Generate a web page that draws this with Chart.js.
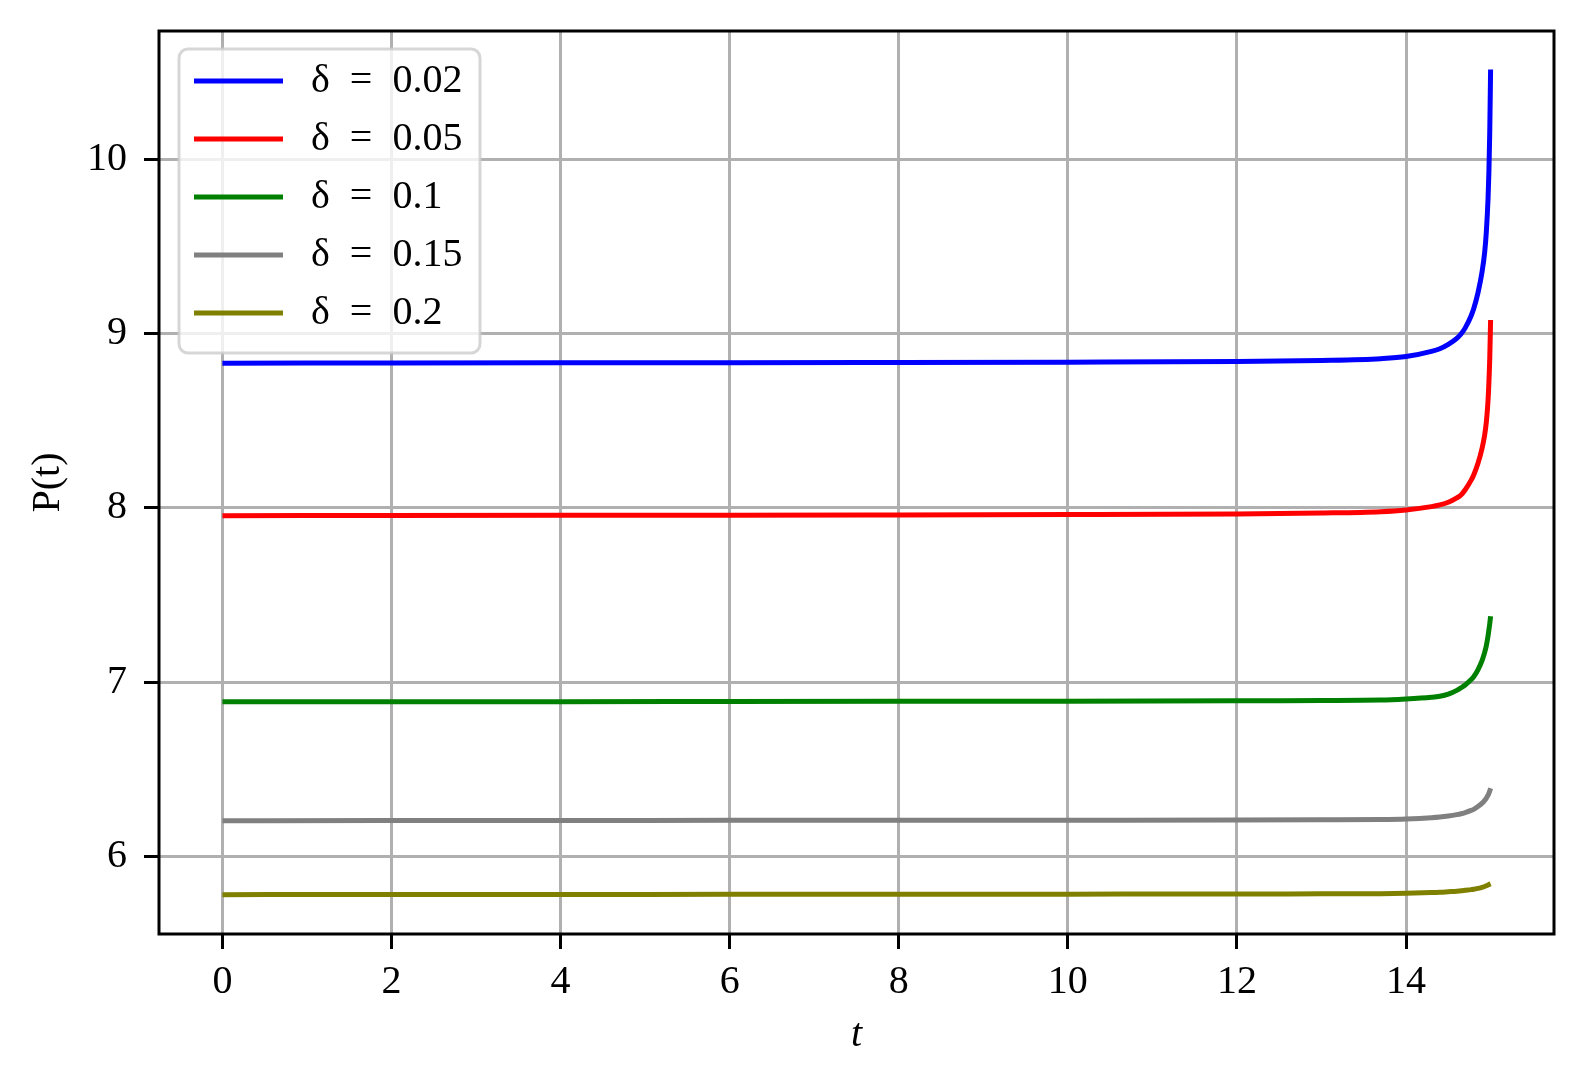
<!DOCTYPE html>
<html>
<head>
<meta charset="utf-8">
<script src="https://cdn.jsdelivr.net/npm/chart.js@4/dist/chart.umd.min.js"></script>
<style>
  html, body { margin: 0; padding: 0; background: #fff; }
  canvas { display: block; }
</style>
</head>
<body>
<canvas id="pChart" width="1583" height="1085"></canvas>
<script>
// time samples (denser near the blow-up at t = 15)
const tValues = [0, 2, 4, 6, 8, 10, 12, 13, 13.7, 14, 14.3, 14.4, 14.5, 14.6, 14.65, 14.7, 14.77, 14.8, 14.85, 14.9, 14.93, 14.95, 14.97, 14.98, 14.99, 15];

const p002 = [8.832, 8.833, 8.834, 8.835, 8.836, 8.838, 8.842, 8.848, 8.858, 8.87, 8.90, 8.915, 8.94, 8.975, 9.0, 9.035, 9.105, 9.145, 9.235, 9.36, 9.47, 9.59, 9.78, 9.93, 10.16, 10.52];
const p005 = [7.956, 7.957, 7.958, 7.959, 7.960, 7.962, 7.966, 7.971, 7.979, 7.989, 8.008, 8.018, 8.033, 8.058, 8.075, 8.105, 8.16, 8.19, 8.255, 8.345, 8.42, 8.495, 8.62, 8.72, 8.86, 9.08];
const p010 = [6.886, 6.887, 6.887, 6.888, 6.889, 6.890, 6.892, 6.894, 6.896, 6.902, 6.912, 6.918, 6.93, 6.952, 6.967, 6.983, 7.014, 7.03, 7.07, 7.125, 7.17, 7.21, 7.265, 7.30, 7.335, 7.378];
const p015 = [6.203, 6.204, 6.204, 6.205, 6.205, 6.206, 6.207, 6.208, 6.210, 6.213, 6.22, 6.224, 6.23, 6.238, 6.243, 6.25, 6.262, 6.268, 6.284, 6.304, 6.32, 6.333, 6.35, 6.361, 6.374, 6.389];
const p020 = [5.778, 5.779, 5.779, 5.780, 5.780, 5.781, 5.782, 5.783, 5.784, 5.786, 5.79, 5.792, 5.795, 5.798, 5.80, 5.803, 5.807, 5.809, 5.814, 5.82, 5.825, 5.829, 5.834, 5.836, 5.839, 5.841];

const seriesLabels = ['δ = 0.02', 'δ = 0.05', 'δ = 0.1', 'δ = 0.15', 'δ = 0.2'];
const seriesColors = ['#0000ff', '#ff0000', '#008000', '#808080', '#808000'];
const seriesValues = [p002, p005, p010, p015, p020];

const xTicks = [0, 2, 4, 6, 8, 10, 12, 14];
const yTicks = [6, 7, 8, 9, 10];

const FONT = "'Liberation Serif', 'DejaVu Serif', serif";
Chart.defaults.color = '#000';
Chart.defaults.font.family = FONT;

const datasets = seriesValues.map((vals, i) => ({
    label: '\u2009' + seriesLabels[i].replace(/ /g, '\u2002'),
    data: tValues.map((t, j) => ({ x: t, y: vals[j] })),
    borderColor: seriesColors[i],
    backgroundColor: seriesColors[i],
    borderWidth: 5,
    pointRadius: 0,
    fill: false,
    cubicInterpolationMode: 'monotone'
}));

// legend drawn after the lines, on a rounded translucent box; axes frame on all sides
const framePlugin = {
    id: 'framePlugin',
    beforeLayout(chart) {
        const lg = chart.legend;
        if (!lg) return;
        lg._layers = () => [{
            z: 1,
            draw(area) {
                const c = chart.ctx;
                const x = lg.left + 3, y = lg.top + 6, w = 301, h = 304;
                c.save();
                c.beginPath();
                c.roundRect(x, y, w, h, 9);
                c.fillStyle = 'rgba(255,255,255,0.8)';
                c.fill();
                c.lineWidth = 3;
                c.strokeStyle = 'rgba(204,204,204,0.8)';
                c.stroke();
                c.restore();
                lg.draw(area);
            }
        }];
    },
    afterLayout(chart) {
        const lg = chart.legend;
        if (!lg) return;
        const a = chart.chartArea;
        const h = lg.bottom - lg.top, w = lg.right - lg.left;
        lg.left = a.left + 17; lg.right = lg.left + w;
        lg.top = a.top + 12; lg.bottom = lg.top + h;
    },
    afterDraw(chart) {
        const a = chart.chartArea;
        const c = chart.ctx;
        c.save();
        c.strokeStyle = '#000';
        c.lineWidth = 3;
        c.strokeRect(a.left, a.top, a.right - a.left, a.bottom - a.top);
        c.restore();
    }
};

const ctx = document.getElementById('pChart').getContext('2d');
const chart = new Chart(ctx, {
    type: 'line',
    data: { datasets: datasets },
    plugins: [framePlugin],
    options: {
        responsive: false,
        animation: false,
        devicePixelRatio: 1,
        layout: { padding: { top: 31, right: 29, left: 0, bottom: 0 } },
        plugins: {
            legend: {
                position: 'chartArea',
                align: 'start',
                labels: {
                    boxWidth: 89,
                    boxHeight: 0,
                    padding: 18,
                    color: '#000',
                    font: { family: FONT, size: 40 }
                }
            },
            tooltip: { enabled: false }
        },
        scales: {
            x: {
                type: 'linear',
                min: -0.75,
                max: 15.75,
                afterBuildTicks: s => { s.ticks = xTicks.map(v => ({ value: v })); },
                afterFit: s => { s.height = 151; s.paddingLeft = 0; s.paddingRight = 0; },
                grid: { color: '#b0b0b0', lineWidth: 3, tickColor: '#000', tickLength: 15, tickWidth: 3 },
                border: { display: false },
                ticks: { padding: 9, maxRotation: 0, font: { family: FONT, size: 40 }, color: '#000' },
                title: { display: true, text: 't', padding: { top: 0, bottom: 26 }, font: { family: FONT, size: 40, style: 'italic' }, color: '#000' }
            },
            y: {
                type: 'linear',
                min: 5.552,
                max: 10.741,
                afterBuildTicks: s => { s.ticks = yTicks.map(v => ({ value: v })); },
                afterFit: s => { s.width = 159; s.paddingTop = 0; s.paddingBottom = 0; },
                grid: { color: '#b0b0b0', lineWidth: 3, tickColor: '#000', tickLength: 15, tickWidth: 3 },
                border: { display: false },
                ticks: { padding: 17, font: { family: FONT, size: 40 }, color: '#000' },
                title: { display: true, text: 'P(t)', padding: { top: 24, bottom: 0 }, font: { family: FONT, size: 40 }, color: '#000' }
            }
        }
    }
});
</script>
</body>
</html>
